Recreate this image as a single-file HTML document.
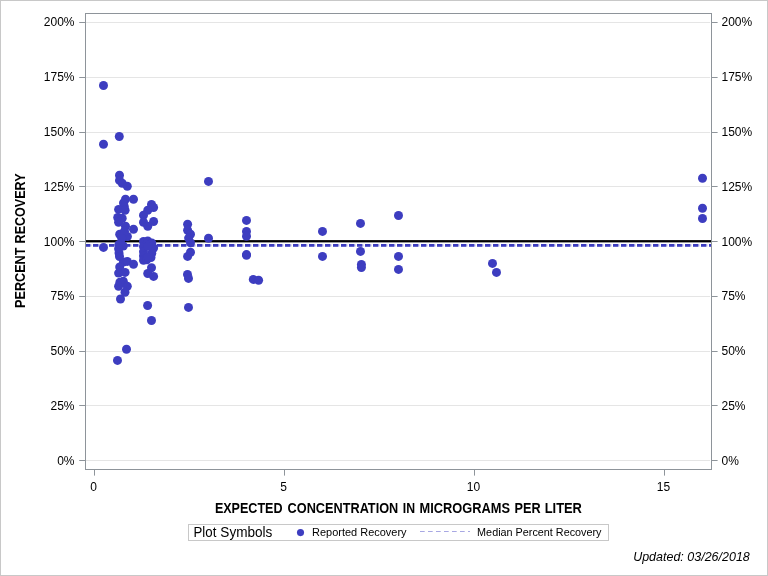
<!DOCTYPE html>
<html><head><meta charset="utf-8"><title>Percent Recovery</title>
<style>html,body{margin:0;padding:0;background:#fff;}body{width:768px;height:576px;overflow:hidden;}svg{display:block;will-change:transform;}text{font-family:"Liberation Sans",sans-serif;fill:#000;}</style>
</head><body>
<svg width="768" height="576" viewBox="0 0 768 576">
<rect x="0" y="0" width="768" height="576" fill="#fff"/>
<rect x="0.5" y="0.5" width="767" height="575" fill="none" stroke="#c8c8c8" stroke-width="1"/>
<rect x="86" y="22" width="624" height="1" fill="#e5e5e5"/>
<rect x="86" y="77" width="624" height="1" fill="#e5e5e5"/>
<rect x="86" y="132" width="624" height="1" fill="#e5e5e5"/>
<rect x="86" y="186" width="624" height="1" fill="#e5e5e5"/>
<rect x="86" y="241" width="624" height="1" fill="#e5e5e5"/>
<rect x="86" y="296" width="624" height="1" fill="#e5e5e5"/>
<rect x="86" y="351" width="624" height="1" fill="#e5e5e5"/>
<rect x="86" y="405" width="624" height="1" fill="#e5e5e5"/>
<rect x="86" y="460" width="624" height="1" fill="#e5e5e5"/>
<rect x="85" y="240.1" width="627" height="2.3" fill="#000"/>
<line x1="85" y1="245.4" x2="711" y2="245.4" stroke="#3d3dc0" stroke-width="2.6" stroke-dasharray="5.3 2.7"/>
<line x1="85" y1="245.4" x2="711" y2="245.4" stroke="#3d3dc0" stroke-opacity="0.3" stroke-width="2.4" stroke-dasharray="6.6 1.4"/>
<rect x="85.5" y="13.5" width="626" height="456" fill="none" stroke="#8e949a" stroke-width="1"/>
<rect x="79.2" y="22" width="5.8" height="1" fill="#8e949a"/>
<rect x="712" y="22" width="5.6" height="1" fill="#8e949a"/>
<text x="74.5" y="25.9" font-size="12" text-anchor="end">200%</text>
<text x="721.5" y="25.9" font-size="12" text-anchor="start">200%</text>
<rect x="79.2" y="77" width="5.8" height="1" fill="#8e949a"/>
<rect x="712" y="77" width="5.6" height="1" fill="#8e949a"/>
<text x="74.5" y="80.9" font-size="12" text-anchor="end">175%</text>
<text x="721.5" y="80.9" font-size="12" text-anchor="start">175%</text>
<rect x="79.2" y="132" width="5.8" height="1" fill="#8e949a"/>
<rect x="712" y="132" width="5.6" height="1" fill="#8e949a"/>
<text x="74.5" y="135.9" font-size="12" text-anchor="end">150%</text>
<text x="721.5" y="135.9" font-size="12" text-anchor="start">150%</text>
<rect x="79.2" y="186" width="5.8" height="1" fill="#8e949a"/>
<rect x="712" y="186" width="5.6" height="1" fill="#8e949a"/>
<text x="74.5" y="190.9" font-size="12" text-anchor="end">125%</text>
<text x="721.5" y="190.9" font-size="12" text-anchor="start">125%</text>
<rect x="79.2" y="241" width="5.8" height="1" fill="#8e949a"/>
<rect x="712" y="241" width="5.6" height="1" fill="#8e949a"/>
<text x="74.5" y="245.9" font-size="12" text-anchor="end">100%</text>
<text x="721.5" y="245.9" font-size="12" text-anchor="start">100%</text>
<rect x="79.2" y="296" width="5.8" height="1" fill="#8e949a"/>
<rect x="712" y="296" width="5.6" height="1" fill="#8e949a"/>
<text x="74.5" y="299.9" font-size="12" text-anchor="end">75%</text>
<text x="721.5" y="299.9" font-size="12" text-anchor="start">75%</text>
<rect x="79.2" y="351" width="5.8" height="1" fill="#8e949a"/>
<rect x="712" y="351" width="5.6" height="1" fill="#8e949a"/>
<text x="74.5" y="354.9" font-size="12" text-anchor="end">50%</text>
<text x="721.5" y="354.9" font-size="12" text-anchor="start">50%</text>
<rect x="79.2" y="405" width="5.8" height="1" fill="#8e949a"/>
<rect x="712" y="405" width="5.6" height="1" fill="#8e949a"/>
<text x="74.5" y="409.9" font-size="12" text-anchor="end">25%</text>
<text x="721.5" y="409.9" font-size="12" text-anchor="start">25%</text>
<rect x="79.2" y="460" width="5.8" height="1" fill="#8e949a"/>
<rect x="712" y="460" width="5.6" height="1" fill="#8e949a"/>
<text x="74.5" y="464.9" font-size="12" text-anchor="end">0%</text>
<text x="721.5" y="464.9" font-size="12" text-anchor="start">0%</text>
<rect x="94" y="470" width="1" height="5.6" fill="#8e949a"/>
<text x="93.5" y="490.9" font-size="12" text-anchor="middle">0</text>
<rect x="284" y="470" width="1" height="5.6" fill="#8e949a"/>
<text x="283.5" y="490.9" font-size="12" text-anchor="middle">5</text>
<rect x="474" y="470" width="1" height="5.6" fill="#8e949a"/>
<text x="473.5" y="490.9" font-size="12" text-anchor="middle">10</text>
<rect x="664" y="470" width="1" height="5.6" fill="#8e949a"/>
<text x="663.5" y="490.9" font-size="12" text-anchor="middle">15</text>
<g fill="#3d3dc0">
<circle cx="103.5" cy="85.5" r="4.5"/>
<circle cx="119.3" cy="136.5" r="4.5"/>
<circle cx="103.5" cy="144.3" r="4.5"/>
<circle cx="103.5" cy="247.4" r="4.5"/>
<circle cx="119.5" cy="175.3" r="4.5"/>
<circle cx="119.5" cy="180.4" r="4.5"/>
<circle cx="122.2" cy="183.3" r="4.5"/>
<circle cx="127.3" cy="186.2" r="4.5"/>
<circle cx="125.5" cy="199.3" r="4.5"/>
<circle cx="133.5" cy="199.3" r="4.5"/>
<circle cx="123.5" cy="203.0" r="4.5"/>
<circle cx="124.3" cy="206.5" r="4.5"/>
<circle cx="118.6" cy="209.4" r="4.5"/>
<circle cx="125.1" cy="210.2" r="4.5"/>
<circle cx="117.7" cy="217.5" r="4.5"/>
<circle cx="122.2" cy="218.3" r="4.5"/>
<circle cx="118.6" cy="222.3" r="4.5"/>
<circle cx="125.5" cy="226.3" r="4.5"/>
<circle cx="133.5" cy="229.3" r="4.5"/>
<circle cx="119.7" cy="234.3" r="4.5"/>
<circle cx="127.4" cy="236.5" r="4.5"/>
<circle cx="124.5" cy="231.3" r="4.5"/>
<circle cx="121.75" cy="238.25" r="4.5"/>
<circle cx="123.4" cy="262.1" r="4.5"/>
<circle cx="119.0" cy="244.4" r="4.5"/>
<circle cx="123.3" cy="246.0" r="4.5"/>
<circle cx="118.6" cy="248.8" r="4.5"/>
<circle cx="119.0" cy="253.0" r="4.5"/>
<circle cx="119.5" cy="256.5" r="4.5"/>
<circle cx="127.3" cy="261.4" r="4.5"/>
<circle cx="133.5" cy="264.2" r="4.5"/>
<circle cx="119.7" cy="267.0" r="4.5"/>
<circle cx="118.6" cy="273.1" r="4.5"/>
<circle cx="125.1" cy="272.4" r="4.5"/>
<circle cx="123.3" cy="281.2" r="4.5"/>
<circle cx="119.9" cy="282.2" r="4.5"/>
<circle cx="118.6" cy="286.3" r="4.5"/>
<circle cx="127.3" cy="286.3" r="4.5"/>
<circle cx="125.0" cy="292.2" r="4.5"/>
<circle cx="120.5" cy="299.0" r="4.5"/>
<circle cx="126.5" cy="349.3" r="4.5"/>
<circle cx="117.5" cy="360.4" r="4.5"/>
<circle cx="151.5" cy="204.4" r="4.5"/>
<circle cx="153.6" cy="207.5" r="4.5"/>
<circle cx="147.75" cy="210.2" r="4.5"/>
<circle cx="143.5" cy="215.3" r="4.5"/>
<circle cx="153.6" cy="221.5" r="4.5"/>
<circle cx="143.5" cy="222.3" r="4.5"/>
<circle cx="147.75" cy="226.3" r="4.5"/>
<circle cx="143.5" cy="241.5" r="4.5"/>
<circle cx="147.75" cy="241.0" r="4.5"/>
<circle cx="151.75" cy="243.0" r="4.5"/>
<circle cx="153.6" cy="248.0" r="4.5"/>
<circle cx="143.5" cy="246.6" r="4.5"/>
<circle cx="143.5" cy="251.7" r="4.5"/>
<circle cx="151.75" cy="253.2" r="4.5"/>
<circle cx="143.5" cy="256.0" r="4.5"/>
<circle cx="151.0" cy="257.5" r="4.5"/>
<circle cx="143.5" cy="260.3" r="4.5"/>
<circle cx="146.8" cy="259.8" r="4.5"/>
<circle cx="147.75" cy="257.0" r="4.5"/>
<circle cx="147.75" cy="246.3" r="4.5"/>
<circle cx="151.5" cy="267.7" r="4.5"/>
<circle cx="147.75" cy="273.5" r="4.5"/>
<circle cx="153.6" cy="276.4" r="4.5"/>
<circle cx="147.6" cy="305.5" r="4.5"/>
<circle cx="151.5" cy="320.5" r="4.5"/>
<circle cx="187.6" cy="224.3" r="4.5"/>
<circle cx="187.6" cy="230.2" r="4.5"/>
<circle cx="190.5" cy="234.3" r="4.5"/>
<circle cx="188.6" cy="238.1" r="4.5"/>
<circle cx="190.5" cy="242.7" r="4.5"/>
<circle cx="190.5" cy="252.25" r="4.5"/>
<circle cx="187.6" cy="256.4" r="4.5"/>
<circle cx="187.5" cy="274.4" r="4.5"/>
<circle cx="188.5" cy="278.4" r="4.5"/>
<circle cx="188.5" cy="307.4" r="4.5"/>
<circle cx="208.5" cy="181.4" r="4.5"/>
<circle cx="208.5" cy="238.3" r="4.5"/>
<circle cx="246.5" cy="220.4" r="4.5"/>
<circle cx="246.5" cy="231.4" r="4.5"/>
<circle cx="246.5" cy="236.3" r="4.5"/>
<circle cx="246.5" cy="254.6" r="4.5"/>
<circle cx="246.5" cy="255.3" r="4.5"/>
<circle cx="253.3" cy="279.4" r="4.5"/>
<circle cx="258.6" cy="280.3" r="4.5"/>
<circle cx="322.5" cy="231.4" r="4.5"/>
<circle cx="322.5" cy="256.4" r="4.5"/>
<circle cx="360.5" cy="223.4" r="4.5"/>
<circle cx="360.5" cy="251.4" r="4.5"/>
<circle cx="361.4" cy="264.4" r="4.5"/>
<circle cx="361.4" cy="267.5" r="4.5"/>
<circle cx="398.5" cy="215.5" r="4.5"/>
<circle cx="398.5" cy="256.4" r="4.5"/>
<circle cx="398.5" cy="269.4" r="4.5"/>
<circle cx="492.5" cy="263.4" r="4.5"/>
<circle cx="496.5" cy="272.4" r="4.5"/>
<circle cx="702.5" cy="178.3" r="4.5"/>
<circle cx="702.5" cy="208.3" r="4.5"/>
<circle cx="702.5" cy="218.5" r="4.5"/>
</g>
<text x="214.88" y="513.0" font-size="14.5" font-weight="bold" textLength="67.67" lengthAdjust="spacingAndGlyphs">EXPECTED</text>
<text x="287.6" y="513.0" font-size="14.5" font-weight="bold" textLength="110.64" lengthAdjust="spacingAndGlyphs">CONCENTRATION</text>
<text x="402.85" y="513.0" font-size="14.5" font-weight="bold" textLength="12.26" lengthAdjust="spacingAndGlyphs">IN</text>
<text x="419.51" y="513.0" font-size="14.5" font-weight="bold" textLength="90.44" lengthAdjust="spacingAndGlyphs">MICROGRAMS</text>
<text x="514.61" y="513.0" font-size="14.5" font-weight="bold" textLength="26.11" lengthAdjust="spacingAndGlyphs">PER</text>
<text x="544.7" y="513.0" font-size="14.5" font-weight="bold" textLength="37.25" lengthAdjust="spacingAndGlyphs">LITER</text>
<g transform="translate(25.0,407.2) rotate(-90)">
<text x="99.2" y="0" font-size="14.5" font-weight="bold" textLength="60.5" lengthAdjust="spacingAndGlyphs">PERCENT</text>
<text x="163.8" y="0" font-size="14.5" font-weight="bold" textLength="70.0" lengthAdjust="spacingAndGlyphs">RECOVERY</text>
</g>
<rect x="188.5" y="524.5" width="420" height="16" fill="#fff" stroke="#c8c8c8" stroke-width="1"/>
<text x="193.5" y="537" font-size="14"  textLength="22.82" lengthAdjust="spacingAndGlyphs">Plot</text>
<text x="220.34" y="537" font-size="14"  textLength="52.08" lengthAdjust="spacingAndGlyphs">Symbols</text>
<circle cx="300.5" cy="532.6" r="3.55" fill="#3d3dc0"/>
<text x="312.08" y="536.2" font-size="11"  textLength="94.45" lengthAdjust="spacingAndGlyphs">Reported Recovery</text>
<line x1="420" y1="531.5" x2="470" y2="531.5" stroke="#3d3dc0" stroke-opacity="0.45" stroke-width="1" stroke-dasharray="4.7 3.3"/>
<text x="477.12" y="536.2" font-size="11"  textLength="124.38" lengthAdjust="spacingAndGlyphs">Median Percent Recovery</text>
<text x="633.16" y="560.8" font-size="12.4" font-style="italic" textLength="116.66" lengthAdjust="spacingAndGlyphs">Updated: 03/26/2018</text>
</svg></body></html>
